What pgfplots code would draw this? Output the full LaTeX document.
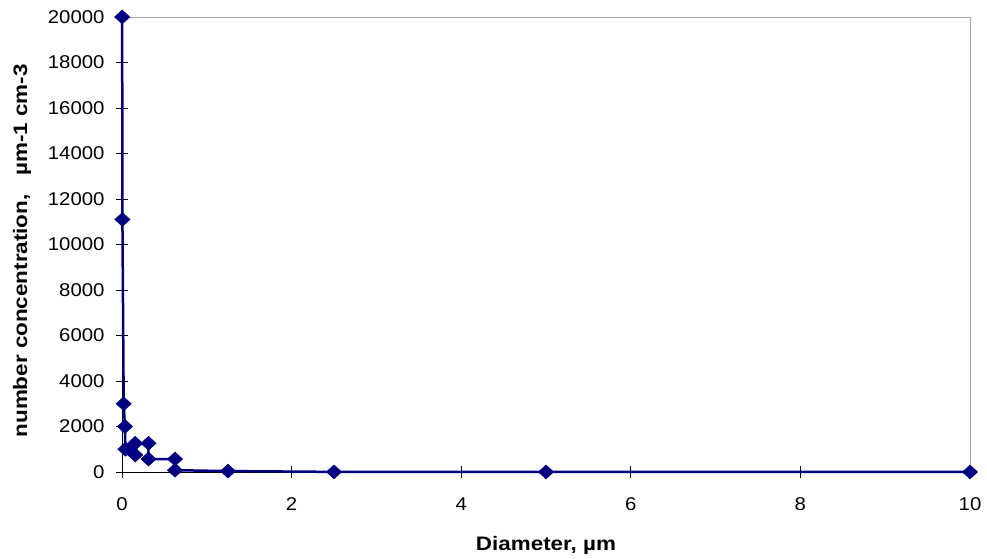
\documentclass[border=0pt]{standalone}
\usepackage{pgfplots}
\pgfplotsset{compat=1.18}
\usepackage{fontspec}
\setmainfont{Liberation Sans}
\newfontfamily\tickfont{Liberation Sans}[FakeStretch=1.1]
\newfontfamily\labfont{Liberation Sans}[FakeStretch=1.15]
\definecolor{navy}{RGB}{0,0,128}
\begin{document}
\begin{tikzpicture}
\useasboundingbox (-122pt,-87pt) rectangle (865pt,472pt);
\begin{axis}[
  at={(0pt,0pt)}, anchor=south west,
  scale only axis, width=848pt, height=455pt,
  xmin=0, xmax=10, ymin=0, ymax=20000,
  xtick={0,2,...,10}, ytick={0,2000,...,20000},
  axis x line*=bottom, axis y line*=left,
  axis line style={black, line width=0.8pt},
  tick align=center, major tick length=12pt,
  tick style={black, line width=0.8pt},
  clip=false,
  scaled y ticks=false,
  /pgf/number format/.cd, 1000 sep={}, assume math mode=true,
  /pgfplots/.cd,
  tick label style={font=\tickfont\fontsize{18.5}{20}\selectfont},
  xticklabel style={yshift=-16pt},
  yticklabel style={xshift=-8pt},
  xlabel={Diameter, µm},
  ylabel={number concentration,\ \ \ µm-1 cm-3},
  xlabel style={font=\labfont\fontsize{19.5}{22}\selectfont\bfseries, at={(axis description cs:0.5,0)}, anchor=center, yshift=-73pt},
  ylabel style={font=\labfont\fontsize{19.5}{22}\selectfont\bfseries, at={(axis description cs:-0.1179,0.486)}, anchor=center, rotate=0},
]
\draw[gray!70, line width=0.8pt] (rel axis cs:0,1) -- (rel axis cs:1,1) -- (rel axis cs:1,0);
\addplot[navy, line width=2.5pt, mark=diamond*, mark size=7pt, mark options={fill=navy, draw=navy, line width=0.5pt, xscale=1.45}]
coordinates {
 (0.002,20000) (0.005,11100) (0.02,3000) (0.035,2000) (0.04,1000)
 (0.09,1000) (0.156,750) (0.156,1260) (0.3125,1260) (0.3125,570)
 (0.625,570) (0.625,80) (1.25,40) (2.5,5) (5,2) (10,0)
};
\end{axis}
\end{tikzpicture}
\end{document}
